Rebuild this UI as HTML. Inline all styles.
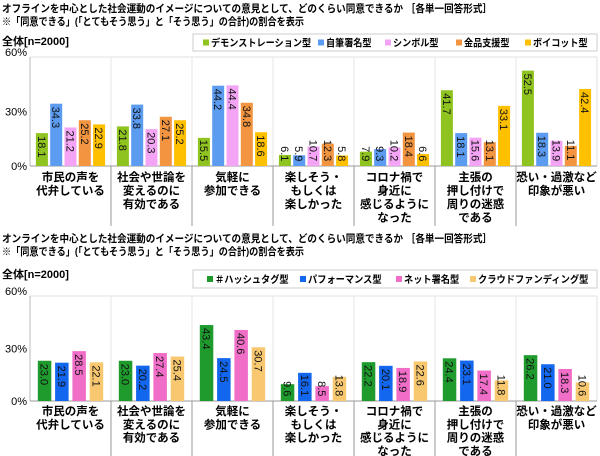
<!DOCTYPE html>
<html><head><meta charset="utf-8"><style>
body{margin:0;background:#fff;width:600px;height:456px;overflow:hidden;font-family:"Liberation Sans","Noto Sans CJK JP",sans-serif}
svg{display:block}
text{font-family:"Liberation Sans","Noto Sans CJK JP",sans-serif}
</style></head><body>
<svg id="s" width="600" height="456" viewBox="0 0 600 456"></svg>
<script>
const cats1=["市民の声を|代弁している","社会や世論を|変えるのに|有効である","気軽に|参加できる","楽しそう・|もしくは|楽しかった","コロナ禍で|身近に|感じるように|なった","主張の|押し付けで|周りの迷惑|である","恐い・過激など|印象が悪い"];
const series1Names=["デモンストレーション型","自筆署名型","シンボル型","金品支援型","ボイコット型"];
const demo=[18.1,21.8,15.5,6.1,7.9,41.7,52.5];
const jihitsu=[34.3,33.8,44.2,5.9,9.3,18.1,18.3];
const symbol=[21.2,20.3,44.4,10.7,10.2,15.6,13.9];
const kinpin=[25.2,27.1,34.8,12.3,18.4,13.1,11.1];
const boycott=[22.9,25.2,18.6,5.8,6.6,33.1,42.4];
const series2Names=["＃ハッシュタグ型","パフォーマンス型","ネット署名型","クラウドファンディング型"];
const hashtag=[23.0,23.0,43.4,9.6,22.2,24.4,26.2];
const perf=[21.9,20.2,24.5,16.1,20.1,23.1,21.0];
const netsig=[28.5,27.4,40.6,8.5,18.9,17.4,18.3];
const crowd=[22.1,25.4,30.7,13.8,22.6,11.8,10.6];
const yTicks=["0%","30%","60%"];
const yVals=[0,30,60];

const NS="http://www.w3.org/2000/svg";
const svg=document.getElementById('s');
function mk(tag,attrs,parent){const e=document.createElementNS(NS,tag);for(const k in attrs)e.setAttribute(k,attrs[k]);(parent||svg).appendChild(e);return e;}
function txt(x,y,s,attrs,parent){const t=mk('text',Object.assign({x:x,y:y},attrs),parent);t.textContent=s;return t;}

function chart(cfg){
  const g=mk('g',{});
  
  
  const L=30,R=597,T=cfg.top,B=cfg.base;
  const gw=(R-L)/7;
  const y=v=>B-(v/60)*(B-T);
  const t1=txt(2,cfg.titleY,cfg.title,{'font-size':'10.5','font-weight':'bold',fill:'#000',textLength:'490',lengthAdjust:'spacingAndGlyphs'},g);
  
  const t2=txt(2,cfg.titleY+13,"※「同意できる」(「とてもそう思う」と「そう思う」の合計)の割合を表示",{'font-size':'10.5','font-weight':'bold',fill:'#000',textLength:'302',lengthAdjust:'spacingAndGlyphs'},g);
  
  txt(2,cfg.nY,"全体[n=2000]",{'font-size':'11','font-weight':'bold',fill:'#000'},g);
  const lg=mk('g',{},g);
  
  
  mk('rect',{x:193,y:cfg.legY,width:404,height:cfg.legH,fill:'#fff',stroke:'#ccc'},lg);
  cfg.names.forEach((n,i)=>{
    const lx=cfg.legX[i];
    const e=mk('g',{},lg);
    
    
    mk('rect',{x:lx,y:cfg.legY+cfg.legH/2-3,width:6,height:6,fill:cfg.colors[i]},e);
    txt(lx+8,cfg.legY+cfg.legH/2+4,n,{'font-size':'10','font-weight':'bold',fill:'#000',textLength:String(n.length*cfg.cw),lengthAdjust:'spacingAndGlyphs'},e);
  });
  mk('line',{x1:L,y1:T,x2:R,y2:T,stroke:'#e0e0e0'},g);
  mk('line',{x1:L,y1:T,x2:L,y2:B,stroke:'#bbb'},g);
  mk('line',{x1:R,y1:T,x2:R,y2:B,stroke:'#e0e0e0'},g);
  yVals.forEach((v,i)=>{
    const t=txt(L-3,y(v)+(v==60?-1:4),yTicks[i],{'font-size':'11','text-anchor':'end',fill:'#000'},g);
    
  });
  for(let c=1;c<7;c++){
    mk('line',{x1:L+c*gw,y1:T,x2:L+c*gw,y2:B,stroke:'#e6e6e6'},g);
    mk('line',{x1:L+c*gw,y1:B,x2:L+c*gw,y2:cfg.divEnd,stroke:'#999'},g);
  }
  mk('line',{x1:L,y1:B,x2:R,y2:B,stroke:'#999'},g);
  const n=cfg.series.length;
  const pitch=cfg.pitch,bw=cfg.bw;
  const off=(gw-(n*pitch-(pitch-bw)))/2;
  cats1.forEach((cat,c)=>{
    const gx=L+c*gw;
    cat.split('|').forEach((ln,k)=>{
      const t=txt(gx+gw/2,cfg.labY+k*cfg.labDY,ln,{'font-size':'11.5','font-weight':'bold','text-anchor':'middle',fill:'#000'},g);
      
    });
    cfg.series.forEach((s,i)=>{
      const v=s[c];const x=gx+off+i*pitch;const yt=y(v);
      const r=mk('rect',{x:x,y:yt,width:bw,height:B-yt,fill:cfg.colors[i]},g);
      
      
      const lbl=v.toFixed(1);
      const ty=Math.min(yt+3,B-lbl.length*6.3-1);
      const t=txt(0,0,lbl,{'font-size':'11',fill:'#111',transform:`translate(${x+bw/2-4},${ty}) rotate(90)`},g);
      
    });
  });
}
chart({name:'offline-chart',title:"オフラインを中心とした社会運動のイメージについての意見として、どのくらい同意できるか ［各単一回答形式］",
  titleY:12,nY:45,legY:34,legH:17,legX:[203,318,385,456,525],cw:9.1,top:57,base:166,divEnd:226,labY:181,labDY:13.5,
  names:series1Names,series:[demo,jihitsu,symbol,kinpin,boycott],colors:["#8fc31f","#5b9bf0","#f4a4f4","#f29440","#ffc000"],pitch:14.3,bw:12});
chart({name:'online-chart',title:"オンラインを中心とした社会運動のイメージについての意見として、どのくらい同意できるか ［各単一回答形式］",
  titleY:242,nY:278,legY:270,legH:18,legX:[207,300,396,470],cw:9.2,top:296,base:401,divEnd:456,labY:415,labDY:13.3,
  names:series2Names,series:[hashtag,perf,netsig,crowd],colors:["#1f9b2e","#1366ee","#f06ec8","#f8c870"],pitch:17.3,bw:13.5});
</script>
</body></html>
